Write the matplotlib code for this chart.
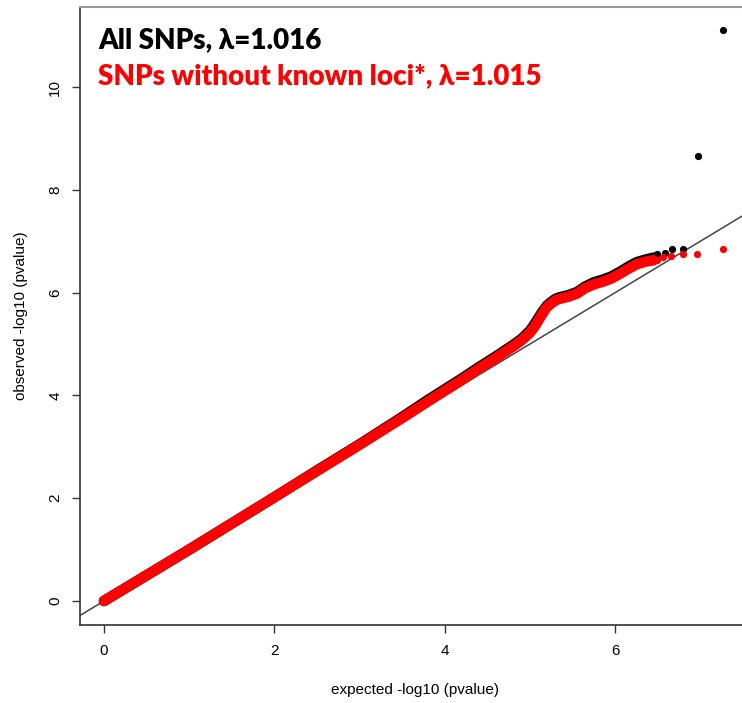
import matplotlib
matplotlib.use("Agg")
import matplotlib.pyplot as plt

# ---- data ----
band_x = [0.0, 0.5, 1.0, 1.5, 2.0, 2.5, 3.0, 3.5, 3.8, 4.0, 4.2, 4.4, 4.6, 4.8, 4.9,
          5.0, 5.05, 5.1, 5.15, 5.2, 5.25, 5.3, 5.35, 5.45, 5.55, 5.65, 5.75, 5.85,
          5.95, 6.05, 6.15, 6.25, 6.35, 6.45]
red_band_y = [0.0, 0.5, 1.0, 1.51, 2.02, 2.53, 3.04, 3.56, 3.88, 4.09, 4.30, 4.52, 4.73,
              4.95, 5.07, 5.22, 5.33, 5.46, 5.60, 5.72, 5.79, 5.85, 5.88, 5.92, 5.98,
              6.09, 6.16, 6.21, 6.27, 6.36, 6.46, 6.55, 6.60, 6.63]
black_band_y = [0.0, 0.5, 1.0, 1.51, 2.02, 2.54, 3.05, 3.58, 3.91, 4.12, 4.33, 4.55, 4.76,
                4.98, 5.10, 5.26, 5.38, 5.51, 5.64, 5.75, 5.82, 5.88, 5.91, 5.95, 6.01,
                6.12, 6.20, 6.25, 6.31, 6.40, 6.50, 6.59, 6.64, 6.68]

black_tail_x = [6.40, 6.49, 6.58, 6.67, 6.80, 6.97, 7.27]
black_tail_y = [6.70, 6.75, 6.77, 6.84, 6.85, 8.66, 11.10]
red_tail_x = [6.49, 6.56, 6.66, 6.79, 6.96, 7.26]
red_tail_y = [6.63, 6.70, 6.71, 6.75, 6.76, 6.85]

x_ticks = [0, 2, 4, 6]
y_ticks = [0, 2, 4, 6, 8, 10]
x_label = "expected -log10 (pvalue)"
y_label = "observed -log10 (pvalue)"
title_all = "All SNPs, \u03bb=1.016"
title_red = "SNPs without known loci*, \u03bb=1.015"

W, H = 742, 703
fig = plt.figure(figsize=(W / 100, H / 100), dpi=100)
left_px, right_px, top_px, bottom_px = 79.5, 750, 7, 625
ax = fig.add_axes([left_px / W, (H - bottom_px) / H,
                   (right_px - left_px) / W, (bottom_px - top_px) / H])

# pixel calibration: x=0 at 104 px, 85.2 px/unit ; y=0 at 601 px, 51.4 px/unit
ax.set_xlim((left_px - 104) / 85.2, (right_px - 104) / 85.2)
ax.set_ylim((601 - bottom_px) / 51.4, (601 - top_px) / 51.4)

# identity line
ax.axline((0, 0), slope=1, color="#444444", lw=1.1, zorder=1)

# black series
ax.plot(band_x, black_band_y, color="black", lw=7.6, solid_capstyle="round",
        solid_joinstyle="round", zorder=2)
ax.plot(black_tail_x, black_tail_y, "o", color="black", ms=5.2, mec="none", zorder=2)
# red series
ax.plot(band_x, red_band_y, color="#ff0000", lw=7.6, solid_capstyle="round",
        solid_joinstyle="round", zorder=3)
ax.plot(red_tail_x, red_tail_y, "o", color="#ff0000", ms=5.2, mec="none", zorder=3)

lab_font = ["Liberation Sans Narrow", "Liberation Sans", "DejaVu Sans"]
ax.set_xticks(x_ticks)
ax.set_yticks(y_ticks)
ax.set_xticklabels([str(t) for t in x_ticks], family=lab_font, fontsize=11)
ax.set_yticklabels([str(t) for t in y_ticks], family=lab_font, fontsize=11,
                   rotation=90, va="center")
ax.tick_params(axis="both", direction="out", length=5.5, width=1.0, color="#333333")
ax.tick_params(axis="x", pad=8)
ax.tick_params(axis="y", pad=7)

for s in ["left", "bottom"]:
    ax.spines[s].set_color("#333333")
    ax.spines[s].set_linewidth(1.2)
ax.spines["top"].set_color("#999999")
ax.spines["top"].set_linewidth(1.5)
ax.spines["right"].set_visible(False)

fig.text(415 / W, 1 - 690 / H, x_label, ha="center", va="center",
         family=lab_font, fontsize=11)
fig.text(21 / W, 1 - 316 / H, y_label, ha="center", va="center", rotation=90,
         family=lab_font, fontsize=11)

tfont = ["Lato", "Open Sans", "DejaVu Sans"]
fig.text(98 / W, 1 - 40 / H, title_all, ha="left", va="center", color="black",
         family=tfont, fontweight="heavy", fontsize=20)
fig.text(98 / W, 1 - 76 / H, title_red, ha="left", va="center", color="#ff0000",
         family=tfont, fontweight="heavy", fontsize=20)

fig.savefig("out.png", dpi=100)
